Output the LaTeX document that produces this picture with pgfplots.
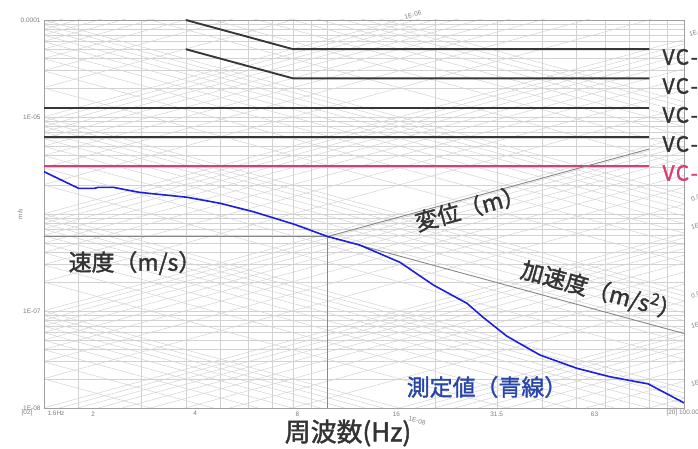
\documentclass[border=0pt]{standalone}
\usepackage{fontspec}
\setmainfont{Liberation Sans}
\newfontfamily\jp[FakeBold=1.6]{Noto Sans CJK JP}
\usepackage{pgfplots}
\pgfplotsset{compat=1.18}

\definecolor{vcdark}{RGB}{55,55,55}
\definecolor{vcpink}{RGB}{216,62,112}
\definecolor{meas}{RGB}{30,30,225}
\definecolor{meastext}{RGB}{40,70,170}
\definecolor{txt}{RGB}{51,51,51}
\definecolor{gridc}{RGB}{210,210,210}
\definecolor{axisc}{RGB}{135,135,135}
\definecolor{lbl}{RGB}{125,125,125}

\begin{document}
\begin{tikzpicture}[x=1bp,y=1bp]
% tripartite paper: displacement (+1) and acceleration (-1) lines
\begin{scope}
\clip (44,41) rectangle (684,429);
\foreach \n in {-11,...,-6}{\foreach \k in {1,...,9}{
  \pgfmathsetmacro\yl{41+97*(log10(\k)+\n+9.00229)}
  \draw[gridc, line width=0.5bp] (44,\yl) -- (684,\yl+174.2);
}}
\foreach \n in {-8,...,-3}{\foreach \k in {1,...,9}{
  \pgfmathsetmacro\yl{41+97*(log10(\k)+\n+6.99771)}
  \draw[gridc, line width=0.5bp] (44,\yl) -- (684,\yl-174.2);
}}
\end{scope}

\begin{axis}[
  at={(44bp,41bp)}, anchor=south west, scale only axis,
  width=640bp, height=388bp,
  xmode=log, ymode=log,
  xmin=1.6, xmax=100, ymin=1e-8, ymax=1e-4,
  axis line style={draw=axisc!80},
  xtick={10}, xticklabels={},
  minor xtick={2,3,4,5,6,7,8,9,20,30,40,50,60,70,80,90},
  ytick={1e-8,1e-7,1e-6,1e-5,1e-4},
  yticklabels={1E-08,1E-07,{},1E-05,0.0001},
  minor ytick={2e-8,3e-8,4e-8,5e-8,6e-8,7e-8,8e-8,9e-8,
               2e-7,3e-7,4e-7,5e-7,6e-7,7e-7,8e-7,9e-7,
               2e-6,3e-6,4e-6,5e-6,6e-6,7e-6,8e-6,9e-6,
               2e-5,3e-5,4e-5,5e-5,6e-5,7e-5,8e-5,9e-5},
  grid=both,
  major grid style={gridc, line width=0.5bp},
  minor grid style={gridc, line width=0.5bp},
  tick style={draw=none},
  extra x ticks={2.2,4.25,8.22,15.6,29.8,56.1},
  extra x tick labels={2,4,8,16,31.5,63},
  extra x tick style={grid=none},
  tick label style={font=\fontsize{6.5}{7}\selectfont, text=lbl},
]
% VC criteria
\addplot[vcdark, line width=1.9bp] coordinates {(4,1e-4) (8,5e-5) (80,5e-5)};
\addplot[vcdark, line width=1.9bp] coordinates {(4,5e-5) (8,2.5e-5) (80,2.5e-5)};
\addplot[vcdark, line width=1.9bp] coordinates {(1.6,1.25e-5) (80,1.25e-5)};
\addplot[vcdark, line width=1.9bp] coordinates {(1.6,6.25e-6) (80,6.25e-6)};
\addplot[vcpink, line width=1.9bp] coordinates {(1.6,3.125e-6) (80,3.125e-6)};
% tripartite axes through 10 Hz
\addplot[axisc, line width=0.9bp] coordinates {(1.6,5.86e-7) (10,5.86e-7) (10,1e-8)};
\addplot[axisc, line width=0.9bp] coordinates {(10,5.86e-7) (80,4.69e-6)};
\addplot[axisc, line width=0.9bp] coordinates {(10,5.86e-7) (100,5.86e-8)};
% measured
\addplot[meas, line width=1.6bp] coordinates {
  (1.6,2.73e-6) (2.0,1.84e-6) (2.22,1.84e-6) (2.27,1.885e-6) (2.5,1.885e-6)
  (2.97,1.67e-6) (4.02,1.49e-6) (4.99,1.29e-6) (6.19,1.056e-6) (8.01,7.89e-7)
  (10.0,5.86e-7) (12.3,4.79e-7) (15.95,3.18e-7) (19.8,1.854e-7) (24.6,1.20e-7)
  (27.3,8.61e-8) (31.8,5.52e-8) (39.4,3.52e-8) (50.0,2.57e-8) (62.0,2.10e-8)
  (79.4,1.77e-8) (100,1.13e-8)};
\end{axis}

% small grey labels
\begin{scope}[font=\fontsize{6.5}{7}\selectfont, text=lbl]
\node at (27,36) {[02]};
\node at (56,36) {1.6Hz};
\node[anchor=west] at (663,36) {[20] 100.00};
\node[rotate=90] at (20,235) {m/s};
\node[rotate=15] at (413,434) {1E-06};
\node[rotate=-15] at (417,28) {1E-08};
\node[anchor=west, rotate=15] at (686,414) {1E-0};
\node[anchor=west, rotate=15] at (688,249) {0.0};
\node[anchor=west, rotate=15] at (688,221) {1E-0};
\node[anchor=west, rotate=15] at (688,152) {0.0};
\node[anchor=west, rotate=15] at (688,122) {1E-0};
\node[anchor=west, rotate=15] at (688,64) {1E-0};
\end{scope}

% VC labels (cut at the right edge as in the source)
\begin{scope}[font=\jp\fontsize{21}{21}\selectfont]
\node[anchor=west, text=txt] at (659,392) {V\kern1.2bp C\kern1.5bp-\kern4bp A};
\node[anchor=west, text=txt] at (659,363) {V\kern1.2bp C\kern1.5bp-\kern4bp B};
\node[anchor=west, text=txt] at (659,334) {V\kern1.2bp C\kern1.5bp-\kern4bp C};
\node[anchor=west, text=txt] at (659,305) {V\kern1.2bp C\kern1.5bp-\kern4bp D};
\node[anchor=west, text=vcpink] at (659,276) {V\kern1.2bp C\kern1.5bp-\kern4bp E};
\end{scope}

% large labels
\node[font=\jp\fontsize{23}{23}\selectfont, text=txt] at (135,186) {速度（m/s）};
\node[font=\jp\fontsize{23}{23}\selectfont, text=txt, rotate=15.3] at (470,241) {変位（m）};
\node[font=\jp\fontsize{23}{23}\selectfont, text=txt, rotate=-15.3] at (601,158) {加速度（m/s\textsuperscript{2}）};
\node[font=\jp\fontsize{23}{23}\selectfont, text=meastext] at (487,62) {測定値（青線）};
\node[font=\jp\fontsize{26}{26}\selectfont, text=txt] at (348,16) {周波数(Hz)};

\pgfresetboundingbox
\path[use as bounding box] (0,0) rectangle (698,449);
\end{tikzpicture}
\end{document}
